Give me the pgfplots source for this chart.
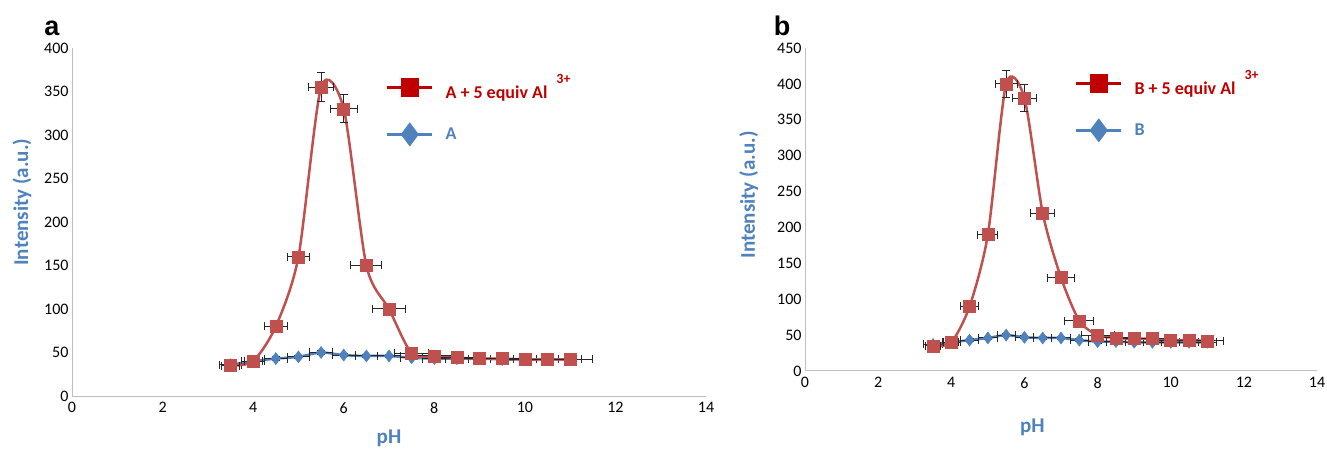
\documentclass[border=0pt]{standalone}
\usepackage{pgfplots}
\pgfplotsset{compat=1.18}
\usepackage{fontspec}
\setmainfont{Carlito}
\newfontfamily\arialfont{Liberation Sans}
\definecolor{exred}{HTML}{C0504D}
\definecolor{exblue}{HTML}{4F81BD}
\definecolor{legred}{HTML}{C00000}
\definecolor{axgray}{HTML}{BFBFBF}
\definecolor{errc}{HTML}{262626}

\pgfplotsset{
  legend image code/.code={\draw[mark repeat=2,mark phase=2,#1] plot coordinates {(0pt,0pt)(22.5pt,0pt)(45pt,0pt)};},
  mystyle/.style={
    scale only axis,
    axis x line*=bottom, axis y line*=left,
    axis line style={axgray, line width=1pt},
    tick style={draw=none},
    xmin=0, xmax=14, xtick={0,2,...,14},
    ymin=0,
    /pgf/number format/assume math mode=true,
    ticklabel style={font=\fontsize{16}{19}\selectfont, text=black},
    xticklabel style={yshift=-3pt},
    label style={font=\fontsize{21}{25}\selectfont\bfseries, text=exblue},
    legend style={draw=none, fill=none, font=\fontsize{18}{22}\selectfont\bfseries, row sep=22pt, anchor=west, inner sep=0pt,
      /tikz/every odd column/.append style={column sep=10pt}},
    legend cell align=left,
    error bars/error bar style={line width=1pt, errc},
    error bars/error mark options={rotate=90, line width=1pt, errc, mark size=4pt},
  },
  redline/.style={exred, line width=2.5pt, smooth, tension=0.45, mark=square*, mark size=6pt, mark options={solid, fill=exred, draw=exred, line width=0.5pt}},
  blueline/.style={exblue, line width=2.5pt, smooth, tension=0.45, mark=diamond*, mark size=6pt, mark options={solid, fill=exblue, draw=exblue, line width=0.5pt}},
  errs/.style={error bars/.cd, x dir=both, x explicit, y dir=both, y explicit, /pgfplots/.cd},
}

\begin{document}
\begin{tikzpicture}[x=1pt,y=1pt]
\useasboundingbox (0,0) rectangle (1327,452);
\node[font=\arialfont\bfseries\fontsize{27}{30}\selectfont, anchor=center] at (52,424) {a};
\node[font=\arialfont\bfseries\fontsize{27}{30}\selectfont, anchor=center] at (782,426) {b};

% ---------- panel a ----------
\begin{axis}[mystyle,
  at={(72pt,56pt)}, anchor=south west,
  width=634pt, height=348pt,
  ymax=400, ytick={0,50,...,400},
  xlabel={pH}, ylabel={Intensity (a.u.)},
  xlabel style={at={(axis description cs:0.5,-0.121)}, anchor=center},
  ylabel style={at={(axis description cs:-0.079,0.557)}, anchor=center},
  legend style={at={(axis description cs:0.495,0.826)}},
]
\addlegendimage{legred, line width=2.5pt, mark=square*, mark size=8pt, mark options={fill=legred, draw=legred}}
\addlegendentry{\textcolor{legred}{A + 5 equiv Al\hspace{9pt}\raisebox{15pt}{\fontsize{14}{15}\selectfont 3+}}}
\addlegendimage{exblue, line width=2.5pt, mark=diamond*, mark size=10pt, mark options={fill=exblue, draw=exblue}}
\addlegendentry{\textcolor{exblue}{A}}

\addplot[forget plot, blueline, errs] coordinates {
(3.5,36)+-(0.25,2) (4,40)+-(0.25,2) (4.5,43)+-(0.25,2) (5,45)+-(0.25,2)
(5.5,50)+-(0.25,2) (6,47)+-(0.25,2) (6.5,46)+-(0.25,2) (7,46)+-(0.25,2)
(7.5,44)+-(0.25,2) (8,43)+-(0.25,2) (8.5,43)+-(0.25,2) (9,43)+-(0.25,2)
(9.5,42)+-(0.25,2) (10,42)+-(0.25,2) (10.5,42)+-(0.25,2) (11,42)+-(0.25,2)
};
\addplot[forget plot, redline, errs] coordinates {
(3.5,35)+-(0.2,2) (4.0,40)+-(0.2,2) (4.5,80)+-(0.25,3) (5.0,160)+-(0.25,5)
(5.5,355)+-(0.27,17) (6.0,330)+-(0.3,16) (6.5,150)+-(0.34,5) (7.0,100)+-(0.37,3)
(7.5,49)+-(0.38,2) (8.0,46)+-(0.45,2) (8.5,44)+-(0.5,2) (9.0,43)+-(0.5,2)
(9.5,43)+-(0.5,2) (10,42)+-(0.5,2) (10.5,42)+-(0.5,2) (11,42)+-(0.5,2)
};
\end{axis}

% ---------- panel b ----------
\begin{axis}[mystyle,
  at={(805pt,81pt)}, anchor=south west,
  width=512pt, height=323pt,
  ymax=450, ytick={0,50,...,450},
  xlabel={pH}, ylabel={Intensity (a.u.)},
  xlabel style={at={(axis description cs:0.444,-0.173)}, anchor=center},
  ylabel style={at={(axis description cs:-0.110,0.545)}, anchor=center},
  legend style={at={(axis description cs:0.527,0.825)}},
]
\addlegendimage{legred, line width=2.5pt, mark=square*, mark size=8pt, mark options={fill=legred, draw=legred}}
\addlegendentry{\textcolor{legred}{B + 5 equiv Al\hspace{9pt}\raisebox{15pt}{\fontsize{14}{15}\selectfont 3+}}}
\addlegendimage{exblue, line width=2.5pt, mark=diamond*, mark size=10pt, mark options={fill=exblue, draw=exblue}}
\addlegendentry{\textcolor{exblue}{B}}

\addplot[forget plot, blueline, errs] coordinates {
(3.5,37)+-(0.25,2) (4,40)+-(0.25,2) (4.5,43)+-(0.25,2) (5,46)+-(0.25,2)
(5.5,50)+-(0.25,2) (6,47)+-(0.25,2) (6.5,46)+-(0.25,2) (7,46)+-(0.25,2)
(7.5,43)+-(0.25,2) (8,41)+-(0.25,2) (8.5,41)+-(0.25,2) (9,40)+-(0.25,2)
(9.5,40)+-(0.25,2) (10,40)+-(0.25,2) (10.5,40)+-(0.25,2) (11,40)+-(0.25,2)
};
\addplot[forget plot, redline, errs] coordinates {
(3.5,35)+-(0.2,2) (4,40)+-(0.2,2) (4.5,90)+-(0.25,4) (5,190)+-(0.27,5)
(5.5,400)+-(0.3,19) (6,380)+-(0.34,19) (6.5,220)+-(0.33,5) (7,130)+-(0.36,4)
(7.5,70)+-(0.4,3) (8,50)+-(0.45,2) (8.5,46)+-(0.45,2) (9,45)+-(0.45,2)
(9.5,45)+-(0.45,2) (10,43)+-(0.45,2) (10.5,43)+-(0.45,2) (11,42)+-(0.45,2)
};
\end{axis}
\end{tikzpicture}
\end{document}
